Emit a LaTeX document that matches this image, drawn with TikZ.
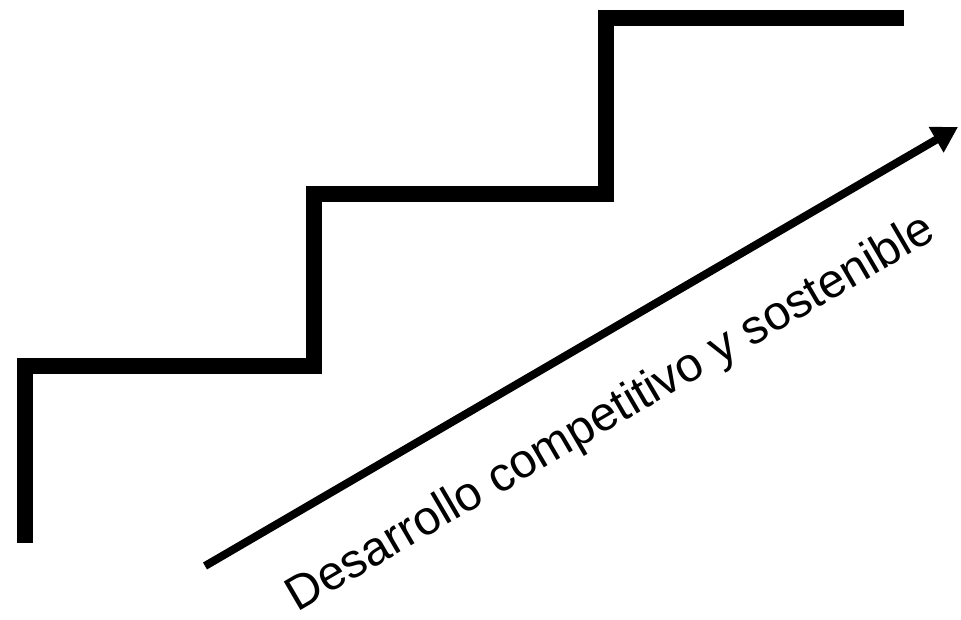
\documentclass[tikz,border=0pt]{standalone}
\usepackage{fontspec}
\setmainfont{Liberation Sans}
\usepackage{tikz}
\usetikzlibrary{arrows.meta}
\tikzset{
  stair/.style={line width=12pt, line join=miter, line cap=butt},
  growth/.style={-{Triangle[length=19pt,width=21pt]}, line width=6pt},
  growthlabel/.style={font=\fontsize{36}{43}\selectfont, anchor=base, rotate=30.3, inner sep=0pt},
}
\def\xA{25}
\def\xB{314}
\def\xC{606}
\def\xD{904}
\begin{document}
\begin{tikzpicture}[x=0.75pt,y=-0.75pt]
  \useasboundingbox (0,0) rectangle (961,620);
  % staircase
  \draw[stair] (\xA,543) -- (\xA,366) -- (\xB,366) -- (\xB,194) -- (\xC,194) -- (\xC,18.5) -- (\xD,18.5);
  % arrow and its label
  \coordinate (start) at (205,566);
  \coordinate (tip) at (958,127);
  \draw[growth] (start) -- (tip);
  \node[growthlabel] (lbl) at (618,425) {Desarrollo competitivo y sostenible};
\end{tikzpicture}
\end{document}
